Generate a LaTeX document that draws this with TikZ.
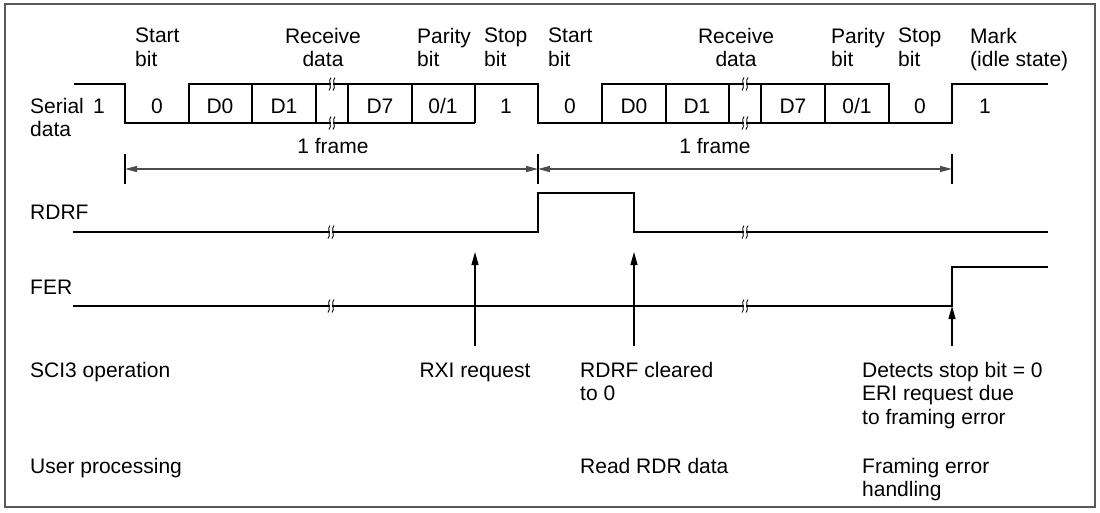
\documentclass[tikz,border=0pt]{standalone}
\usepackage{fontspec}
\setmainfont{Liberation Sans}
\usetikzlibrary{positioning,calc,arrows.meta}

\begin{document}
\begin{tikzpicture}[
    x=1pt, y=-1pt,
    every node/.style={font=\fontsize{21}{23.5}\selectfont, inner sep=0pt},
    lbl/.style={anchor=north west, align=left},
    sig/.style={line width=1.3pt, line join=miter},
    bitval/.style={anchor=base},
    dim/.style={{Triangle[length=12pt,width=6pt]}-{Triangle[length=12pt,width=6pt]}, line width=1.4pt, black!70},
    tick/.style={line width=1.2pt},
    uni/.style={-{Triangle[length=13pt,width=7pt]}, line width=1.1pt},
    brk/.pic={
        \fill[white] (-1.4,-6) rectangle (1.4,6);
        \draw[line width=0.9pt] (-1,-6.5) .. controls (-4.5,-4) and (0.5,4) .. (-3,6.5);
        \draw[line width=0.9pt] (3,-6.5) .. controls (-0.5,-4) and (4.5,4) .. (1,6.5);
    }
]
    \useasboundingbox (0,0) rectangle (1100,512);
    \draw[line width=1.5pt, black!65] (5,4) rectangle (1095,507);

    % field names over the bits
    \node[lbl] (start1) at (135,28) {Start\\bit};
    \node[lbl, anchor=north, align=center] (recv1) at (323,28) {Receive\\data};
    \node[lbl] (par1) at (417,28) {Parity\\bit};
    \node[lbl] (stop1) at (484,28) {Stop\\bit};
    \node[lbl] (start2) at (548,28) {Start\\bit};
    \node[lbl, anchor=north, align=center] (recv2) at (736,28) {Receive\\data};
    \node[lbl] (par2) at (831,28) {Parity\\bit};
    \node[lbl] (stop2) at (898,28) {Stop\\bit};
    \node[lbl] (mark) at (970,28) {Mark\\(idle state)};

    % serial data
    \node[lbl] (serial) at (30,98) {Serial\\data};
    \draw[sig] (74,84) -- (125,84) -- (125,123) -- (475,123);
    \draw[sig] (189,123) -- (189,84) -- (538,84) -- (538,123) -- (952,123) -- (952,84) -- (1048,84);
    \draw[sig] (602,123) -- (602,84) -- (889,84) -- (889,123);
    \foreach \x in {252,316,348,412,475,666,729,761,825}
        \draw[sig] (\x,84) -- (\x,123);
    \foreach \x/\bv in {99/1,157/0,220/D0,284/D1,380/D7,443/{0/1},506/1,570/0,634/D0,697/D1,793/D7,857/{0/1},920/0,985/1}
        \node[bitval] (bit-\x) at (\x,113) {\bv};
    \foreach \x in {332,745} {
        \pic at (\x,84) {brk};
        \pic at (\x,123) {brk};
    }

    % frame length
    \coordinate (fa) at (125,169);
    \coordinate (fb) at (538,169);
    \coordinate (fc) at (952,169);
    \foreach \c in {fa,fb,fc}
        \draw[tick] ([yshift=15pt]\c) -- ([yshift=-15pt]\c);
    \draw[dim] (fa) -- (fb);
    \draw[dim] (fb) -- (fc);
    \node[bitval] (frame1) at (333,153) {1 frame};
    \node[bitval] (frame2) at (715,153) {1 frame};

    % flags
    \node[anchor=base west] (rdrf) at (30,219) {RDRF};
    \draw[sig] (73,232) -- (538,232) -- (538,193) -- (634,193) -- (634,232) -- (1048,232);
    \node[anchor=base west] (fer) at (30,294) {FER};
    \draw[sig] (73,306) -- (952,306) -- (952,267) -- (1048,267);
    \foreach \x in {331,745} {
        \pic at (\x,232) {brk};
        \pic at (\x,306) {brk};
    }

    % SCI3 operation
    \node[lbl] (sci) at (30,362) {SCI3 operation};
    \node[anchor=base] (rxi) at (475,377) {RXI request};
    \node[lbl] (clr) at (580,362) {RDRF cleared\\to 0};
    \node[lbl] (eri) at (862,362) {Detects stop bit = 0\\ERI request due\\to framing error};

    \coordinate (rxitip) at (475,252);
    \coordinate (clrtip) at (634,252);
    \coordinate (fertip) at (952,306);
    \draw[uni] ([yshift=16pt]rxi.north) -- (rxitip);
    \draw[uni] ($(clrtip |- clr.north)+(0,-16)$) -- (clrtip);
    \draw[uni] ($(fertip |- eri.north)+(0,-16)$) -- (fertip);

    % user processing
    \node[lbl] (user) at (30,458) {User processing};
    \node[lbl] (readrdr) at (580,458) {Read RDR data};
    \node[lbl] (ferr) at (862,458) {Framing error\\handling};
\end{tikzpicture}
\end{document}
